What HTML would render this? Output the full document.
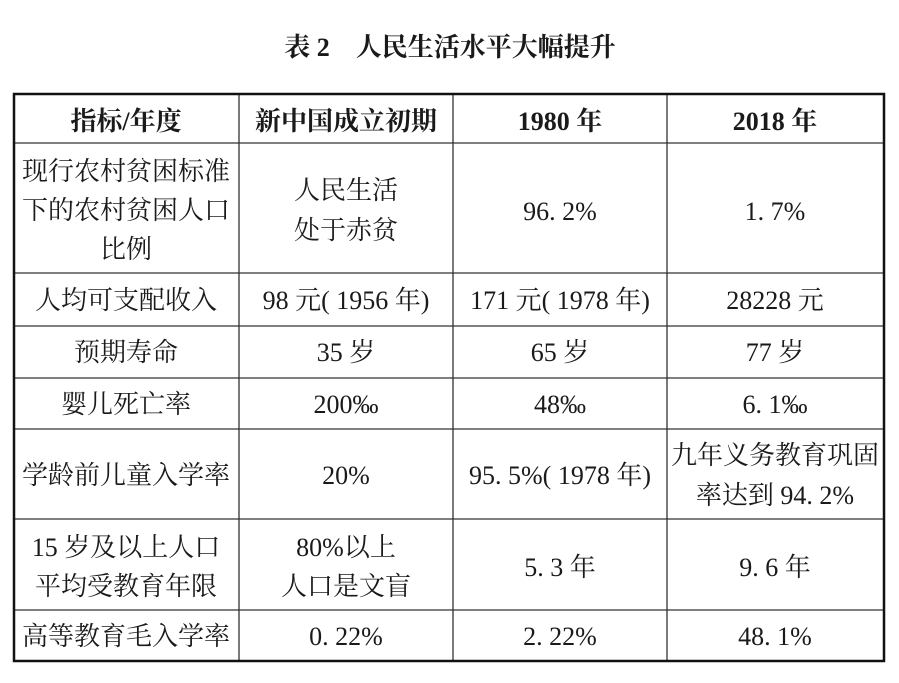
<!DOCTYPE html>
<html><head><meta charset="utf-8"><style>
body{margin:0;background:#fff;width:899px;height:678px;overflow:hidden}
text{font-family:"Liberation Serif","Noto Serif CJK SC","Noto Sans CJK SC",serif;font-size:26px;fill:#1a1a1a}
.b{font-weight:bold}
</style></head><body>
<svg width="899" height="678" xmlns="http://www.w3.org/2000/svg">
<text x="450" y="56" text-anchor="middle" class="b" style="font-size:26px">表 2　人民生活水平大幅提升</text>
<g stroke="#333" stroke-width="1.3">
<line x1="14" y1="143" x2="884" y2="143"/>
<line x1="14" y1="273" x2="884" y2="273"/>
<line x1="14" y1="326" x2="884" y2="326"/>
<line x1="14" y1="378" x2="884" y2="378"/>
<line x1="14" y1="429" x2="884" y2="429"/>
<line x1="14" y1="519" x2="884" y2="519"/>
<line x1="14" y1="610" x2="884" y2="610"/>
<line x1="239" y1="94" x2="239" y2="661"/>
<line x1="453" y1="94" x2="453" y2="661"/>
<line x1="667" y1="94" x2="667" y2="661"/>
</g>
<rect x="14" y="94" width="870" height="567" fill="none" stroke="#111" stroke-width="2.5"/>
<g text-anchor="middle">
<text x="126" y="130" class="b">指标/年度</text>
<text x="346" y="130" class="b">新中国成立初期</text>
<text x="560" y="130" class="b">1980 年</text>
<text x="775" y="130" class="b">2018 年</text>

<text x="126" y="180">现行农村贫困标准</text>
<text x="126" y="219">下的农村贫困人口</text>
<text x="126" y="258">比例</text>
<text x="346" y="199">人民生活</text>
<text x="346" y="239">处于赤贫</text>
<text x="560" y="220">96. 2%</text>
<text x="775" y="220">1. 7%</text>

<text x="126" y="309">人均可支配收入</text>
<text x="346" y="309">98 元( 1956 年)</text>
<text x="560" y="309">171 元( 1978 年)</text>
<text x="775" y="309">28228 元</text>

<text x="126" y="361">预期寿命</text>
<text x="346" y="361">35 岁</text>
<text x="560" y="361">65 岁</text>
<text x="775" y="361">77 岁</text>

<text x="126" y="413">婴儿死亡率</text>
<text x="346" y="413">200‰</text>
<text x="560" y="413">48‰</text>
<text x="775" y="413">6. 1‰</text>

<text x="126" y="484">学龄前儿童入学率</text>
<text x="346" y="484">20%</text>
<text x="560" y="484">95. 5%( 1978 年)</text>
<text x="775" y="464">九年义务教育巩固</text>
<text x="775" y="504">率达到 94. 2%</text>

<text x="126" y="556">15 岁及以上人口</text>
<text x="126" y="595">平均受教育年限</text>
<text x="346" y="556">80%以上</text>
<text x="346" y="595">人口是文盲</text>
<text x="560" y="576">5. 3 年</text>
<text x="775" y="576">9. 6 年</text>

<text x="126" y="645">高等教育毛入学率</text>
<text x="346" y="645">0. 22%</text>
<text x="560" y="645">2. 22%</text>
<text x="775" y="645">48. 1%</text>
</g>
</svg>
</body></html>
